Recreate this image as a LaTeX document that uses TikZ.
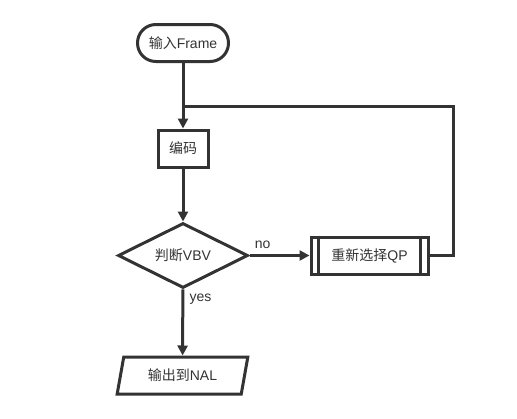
\documentclass[tikz,border=0pt]{standalone}
\usepackage{fontspec}
\setmainfont{Liberation Sans}
\newfontfamily\cjk{Noto Sans CJK SC}
\usetikzlibrary{shapes.geometric,arrows.meta,calc}
\definecolor{linegray}{HTML}{333333}
\tikzset{
    base/.style={draw=linegray,line width=2.25pt,text=linegray,font=\fontsize{10.5}{12}\selectfont,inner sep=0pt},
    terminal/.style={base,rounded corners=13.8pt,minimum width=68.25pt,minimum height=27.75pt},
    process/.style={base,minimum width=37.5pt,minimum height=27.75pt},
    decision/.style={base,diamond,aspect=2,minimum width=97.5pt,minimum height=48.75pt},
    io/.style={base,trapezium,trapezium left angle=63,trapezium right angle=117,minimum width=98pt,minimum height=27.75pt,trapezium stretches body},
    flow/.style={draw=linegray,line width=2.25pt,-{Triangle[length=7.5pt,width=7.5pt]}},
    plain/.style={draw=linegray,line width=2.25pt},
    lbl/.style={text=linegray,font=\fontsize{10.5}{12}\selectfont,inner sep=0pt}
}
\begin{document}
\begin{tikzpicture}[x=0.75pt,y=-0.75pt]
    \useasboundingbox (0,0) rectangle (517,418);

    \node[terminal] (start) at (183,43) {{\cjk 输入}Frame};
    \node[process] (encode) at (183,148.5) {\cjk 编码};
    \node[decision] (vbv) at (183,255.5) {{\cjk 判断}VBV};
    \node[base,minimum width=87.75pt,minimum height=27.75pt] (qp) at (369.5,255.5) {{\cjk 重新选择}QP};
    \node[io] (out) at (182.5,375.5) {{\cjk 输出到}NAL};

    \coordinate (join) at (183,106);
    \coordinate (loop) at (453,106);

    \draw[plain] ($(qp.north west)+(9,0)$) -- ($(qp.south west)+(9,0)$);
    \draw[plain] ($(qp.north east)+(-9,0)$) -- ($(qp.south east)+(-9,0)$);

    \draw[flow] (start) -- (encode);
    \draw[flow] (encode) -- (vbv);
    \draw[flow] (vbv) -- node[lbl,pos=0.22,above=4pt] {no} (qp);
    \draw[flow] (vbv) -- node[lbl,pos=0.14,right=4pt] {yes} (out);
    \draw[plain,line join=miter] (qp.east) -| (loop) -- (join);
\end{tikzpicture}
\end{document}
